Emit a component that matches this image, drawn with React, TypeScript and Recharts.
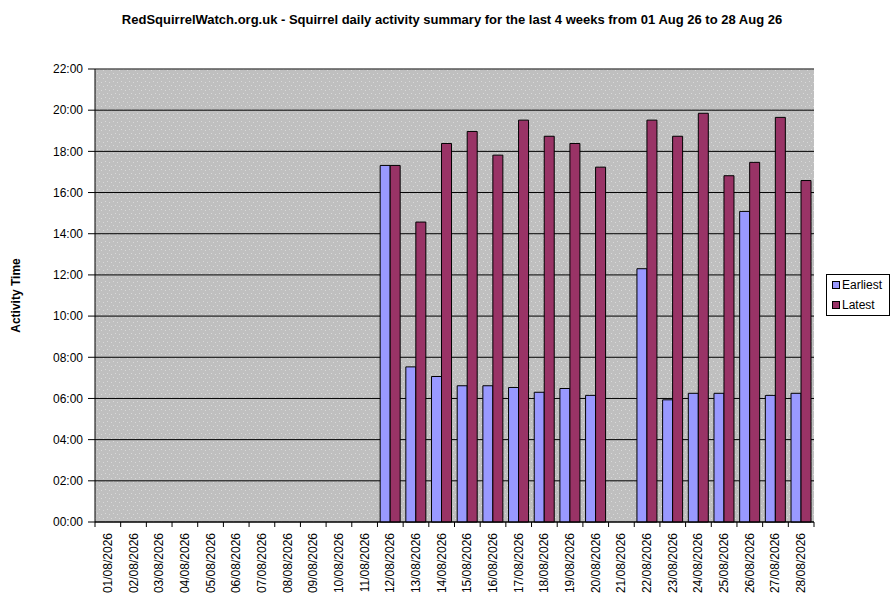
import React from 'react';
import { BarChart, Bar, XAxis, YAxis, CartesianGrid, ReferenceLine } from 'recharts';

const dates = [
  '01/08/2026', '02/08/2026', '03/08/2026', '04/08/2026', '05/08/2026', '06/08/2026', '07/08/2026',
  '08/08/2026', '09/08/2026', '10/08/2026', '11/08/2026', '12/08/2026', '13/08/2026', '14/08/2026',
  '15/08/2026', '16/08/2026', '17/08/2026', '18/08/2026', '19/08/2026', '20/08/2026', '21/08/2026',
  '22/08/2026', '23/08/2026', '24/08/2026', '25/08/2026', '26/08/2026', '27/08/2026', '28/08/2026',
];

const earliest: (string | null)[] = [
  null, null, null, null, null, null, null,
  null, null, null, null, '17:19', '07:32', '07:04',
  '06:37', '06:37', '06:32', '06:18', '06:29', '06:09', null,
  '12:18', '05:56', '06:15', '06:15', '15:05', '06:09', '06:15',
];

const latest: (string | null)[] = [
  null, null, null, null, null, null, null,
  null, null, null, null, '17:19', '14:34', '18:23',
  '18:58', '17:49', '19:31', '18:44', '18:23', '17:14', null,
  '19:31', '18:44', '19:51', '16:49', '17:28', '19:39', '16:35',
];

const yTicks = [0, 2, 4, 6, 8, 10, 12, 14, 16, 18, 20, 22];

const seriesNames = ['Earliest', 'Latest'];
const seriesColors = ['#9999FF', '#993366'];

const TITLE =
  'RedSquirrelWatch.org.uk - Squirrel daily activity summary for the last 4 weeks from 01 Aug 26 to 28 Aug 26';

const toHours = (s: string | null) => {
  if (!s) return null;
  const [h, m] = s.split(':').map(Number);
  return h + m / 60;
};

const data = dates.map((d, i) => ({
  date: d,
  Earliest: toHours(earliest[i]),
  Latest: toHours(latest[i]),
}));

const fmt = (v: number) => `${String(v).padStart(2, '0')}:00`;

const FONT = 'Arial, "Liberation Sans", sans-serif';

const XTick = (props: any) => {
  const { x, y, payload } = props;
  const half = 719 / 28 / 2;
  return (
    <g>
      <line x1={x + half} y1={y - 8} x2={x + half} y2={y - 3} stroke="#000" />
      {payload.index === 0 && <line x1={x - half} y1={y - 8} x2={x - half} y2={y - 3} stroke="#000" />}
      <g transform={`translate(${x},${y})`}>
        <text transform="rotate(-90)" x={-3} y={4} textAnchor="end" fontFamily={FONT} fontSize={12} fill="#000">
          {payload.value}
        </text>
      </g>
    </g>
  );
};

export default function App() {
  return (
    <div style={{ position: 'absolute', left: 0, top: 0, width: 894, height: 609, background: '#fff' }}>
      <svg width={0} height={0} style={{ position: 'absolute' }}>
        <defs>
          <pattern id="stipple" width={8} height={8} patternUnits="userSpaceOnUse">
            <rect width={8} height={8} fill="#BFBFBF" />
            <rect x={1} y={1} width={1} height={1} fill="#D9D9D9" />
            <rect x={5} y={2} width={1} height={1} fill="#D9D9D9" />
            <rect x={3} y={5} width={1} height={1} fill="#D9D9D9" />
            <rect x={7} y={6} width={1} height={1} fill="#D9D9D9" />
          </pattern>
        </defs>
      </svg>
      <div
        style={{
          position: 'absolute',
          left: 0,
          top: 12,
          width: 904,
          textAlign: 'center',
          fontFamily: FONT,
          fontWeight: 'bold',
          fontSize: 13,
          color: '#000',
        }}
      >
        {TITLE}
      </div>
      <BarChart
        width={894}
        height={609}
        data={data}
        margin={{ top: 69, right: 80, bottom: 0, left: 0 }}
        barCategoryGap="10.5%"
        barGap={0}
      >
        <CartesianGrid vertical={false} stroke="#000" fill="url(#stipple)" fillOpacity={1} />
        <XAxis dataKey="date" interval={0} height={87} tickLine={false} stroke="#000" tick={<XTick />} />
        <YAxis
          width={95}
          domain={[0, 22]}
          ticks={yTicks}
          tickFormatter={fmt}
          interval={0}
          stroke="#000"
          tickSize={7}
          tickMargin={5}
          tick={{ fontFamily: FONT, fontSize: 12, fill: '#000' }}
          label={{
            value: 'Activity Time',
            angle: -90,
            position: 'insideLeft',
            offset: 16,
            style: { fontFamily: FONT, fontSize: 12, fontWeight: 'bold', fill: '#000', textAnchor: 'middle' },
          }}
        />
        <YAxis yAxisId="r" orientation="right" width={0} tick={false} tickLine={false} stroke="#808080" domain={[0, 22]} />
        <ReferenceLine y={22} stroke="#808080" />
        <Bar dataKey="Earliest" fill={seriesColors[0]} stroke="#000" strokeWidth={1} isAnimationActive={false} />
        <Bar dataKey="Latest" fill={seriesColors[1]} stroke="#000" strokeWidth={1} isAnimationActive={false} />
      </BarChart>
      <div
        style={{
          position: 'absolute',
          left: 826,
          top: 274,
          width: 62,
          height: 40,
          border: '1px solid #000',
          background: '#fff',
          fontFamily: FONT,
          fontSize: 12,
          color: '#000',
        }}
      >
        {seriesNames.map((n, i) => (
          <div key={n} style={{ display: 'flex', alignItems: 'center', height: 20, paddingLeft: 5 }}>
            <span
              style={{
                width: 6,
                height: 6,
                border: '1px solid #000',
                background: seriesColors[i],
                marginRight: 2,
                display: 'inline-block',
              }}
            />
            <span>{n}</span>
          </div>
        ))}
      </div>
    </div>
  );
}
